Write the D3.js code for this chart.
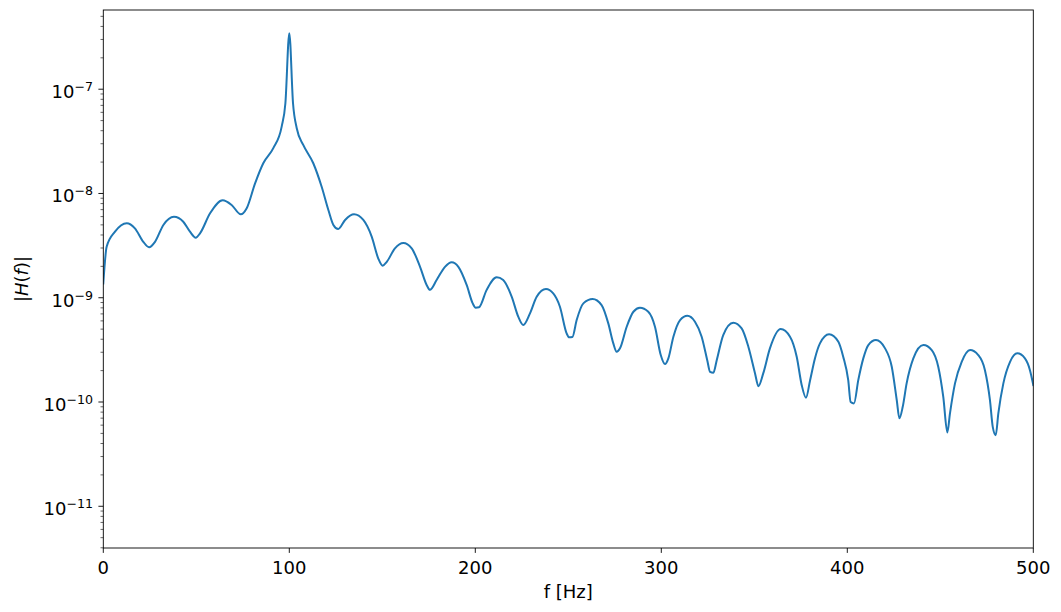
<!DOCTYPE html>
<html><head><meta charset="utf-8">
<script src="https://cdn.jsdelivr.net/npm/d3@7"></script>
<style>body{margin:0;background:#fff} text{font-family:"DejaVu Sans",sans-serif;fill:#000}</style>
</head><body><svg id="c" width="1061" height="612"></svg>
<script>
const freqs = [0,1.8,6.3,12.6,17,21.5,24.6,27.8,32.3,38,43,46.6,49.7,52,57.4,64.2,69,73.9,77.1,81.6,86,91.4,95.9,97.9,100,102,104,107.5,112.9,117.4,121,123.7,126.3,130,134.8,139.8,144.3,147.8,150.2,152.4,156.8,161.3,165.8,170.3,173.9,175.6,179.2,183.7,187.3,190.9,195.4,198.6,200.2,202,206.1,211.5,215,219.6,223.1,225.8,229.4,233,238,241.9,245.5,249.1,250.5,252.2,254.5,258.1,263.1,267.9,271.5,274.2,276,277.8,281.4,285,288.5,293,296.6,299.7,302,303.8,306.5,310.1,314,318.1,321.7,324.7,326.2,328,329.8,333.3,338.7,343.2,346.8,350.4,352.2,354.8,358.4,364.2,369.2,372.8,375.5,377.8,380,382.6,385.3,390.2,395.2,397.8,400.5,401.8,403.6,405.9,408.6,411.3,415.4,420.3,423.9,426.6,428,429.8,431.9,435.5,440.9,445.4,448.9,451.6,453.8,455.2,457.9,461.5,466,470.4,474,476.7,478.2,479.8,481.2,483.9,487.5,491.4,495.5,498.2,500];
const magnitudes = [1.37e-9,3.08e-9,4.3e-9,5.18e-9,4.63e-9,3.44e-9,3.05e-9,3.44e-9,4.99e-9,5.98e-9,5.36e-9,4.3e-9,3.77e-9,4.15e-9,6.46e-9,8.61e-9,7.76e-9,6.31e-9,7.21e-9,1.25e-8,1.95e-8,2.72e-8,4.38e-8,7.34e-8,3.44e-7,7.34e-8,4.22e-8,2.92e-8,1.95e-8,1.16e-8,6.95e-9,4.99e-9,4.56e-9,5.57e-9,6.31e-9,5.57e-9,3.85e-9,2.39e-9,2.03e-9,2.21e-9,2.98e-9,3.35e-9,2.98e-9,1.98e-9,1.32e-9,1.19e-9,1.48e-9,1.98e-9,2.19e-9,1.98e-9,1.32e-9,8.83e-10,8.02e-10,8.1e-10,1.19e-9,1.57e-9,1.48e-9,1.02e-9,6.58e-10,5.47e-10,7.08e-10,1.02e-9,1.21e-9,1.10e-9,8.2e-10,4.55e-10,4.17e-10,4.2e-10,6.11e-10,8.83e-10,9.72e-10,8.51e-10,5.68e-10,3.65e-10,3.03e-10,3.27e-10,5.27e-10,7.34e-10,8.02e-10,7.34e-10,5.27e-10,2.82e-10,2.31e-10,2.62e-10,4.23e-10,6.11e-10,6.72e-10,5.89e-10,4.23e-10,2.52e-10,1.95e-10,1.91e-10,2.52e-10,4.39e-10,5.75e-10,5.08e-10,3.39e-10,1.88e-10,1.42e-10,1.88e-10,3.27e-10,5.01e-10,4.23e-10,2.72e-10,1.45e-10,1.10e-10,1.62e-10,2.62e-10,3.65e-10,4.46e-10,3.78e-10,2.72e-10,1.62e-10,1.0e-10,9.7e-11,1.62e-10,2.62e-10,3.52e-10,3.93e-10,3.27e-10,2.18e-10,1.04e-10,6.97e-11,9.0e-11,1.51e-10,2.62e-10,3.52e-10,3.15e-10,2.18e-10,1.12e-10,5.11e-11,7.78e-11,1.51e-10,2.43e-10,3.15e-10,2.82e-10,2.02e-10,1.04e-10,5.78e-11,4.81e-11,7.78e-11,1.51e-10,2.43e-10,2.93e-10,2.62e-10,2.02e-10,1.45e-10];
const xTicks = [0,100,200,300,400,500];
const yTickExponents = [-11,-10,-9,-8,-7];
const xDomain = [0,500];
const yDomain = [3.98e-12, 5.75e-7];
const xLabel = "f [Hz]";

const svg = d3.select("#c");
const L = 103.3, R = 1033.3, T = 10, B = 548;
const x = d3.scaleLinear().domain(xDomain).range([L, R]);
const y = d3.scaleLog().domain(yDomain).range([B, T]);

svg.append("defs").append("clipPath").attr("id","clip")
  .append("rect").attr("x",L).attr("y",T).attr("width",R-L).attr("height",B-T);

const data = freqs.map((f,i)=>[f, magnitudes[i]]);
svg.append("path").datum(data)
  .attr("clip-path","url(#clip)")
  .attr("fill","none").attr("stroke","#1f77b4").attr("stroke-width",2)
  .attr("stroke-linejoin","round").attr("stroke-linecap","square")
  .attr("d", d3.line().x(d=>x(d[0])).y(d=>y(d[1])).curve(d3.curveMonotoneX));

// frame
svg.append("rect").attr("x",L).attr("y",T).attr("width",R-L).attr("height",B-T)
  .attr("fill","none").attr("stroke","#000").attr("stroke-width",0.9);

// x ticks
const xg = svg.append("g");
xTicks.forEach(t=>{
  xg.append("line").attr("x1",x(t)).attr("x2",x(t)).attr("y1",B).attr("y2",B+4.9)
    .attr("stroke","#000").attr("stroke-width",0.9);
  xg.append("text").attr("x",x(t)).attr("y",574).attr("text-anchor","middle")
    .attr("font-size",18).text(t);
});
svg.append("text").attr("x",(L+R)/2).attr("y",598).attr("text-anchor","middle")
  .attr("font-size",18).text(xLabel);

// y ticks
const yg = svg.append("g");
yTickExponents.forEach(e=>{
  const v = Math.pow(10,e), py = y(v);
  yg.append("line").attr("x1",L-4.9).attr("x2",L).attr("y1",py).attr("y2",py)
    .attr("stroke","#000").attr("stroke-width",0.9);
  const t = yg.append("text").attr("x",93).attr("y",py+9).attr("text-anchor","end").attr("font-size",18);
  t.append("tspan").text("10");
  t.append("tspan").attr("dy",-7).attr("font-size",12.6).text("\u2212"+Math.abs(e));
});
// minor ticks
for(let e=-12;e<=-7;e++){
  for(let m=2;m<=9;m++){
    const v = m*Math.pow(10,e);
    if(v<yDomain[0]||v>yDomain[1]) continue;
    const py = y(v);
    yg.append("line").attr("x1",L-2.8).attr("x2",L).attr("y1",py).attr("y2",py)
      .attr("stroke","#000").attr("stroke-width",0.6);
  }
}
// y label
const yl = svg.append("text").attr("transform","translate(28,279) rotate(-90)")
  .attr("text-anchor","middle").attr("font-size",18);
yl.append("tspan").text("|");
yl.append("tspan").attr("font-style","italic").text("H");
yl.append("tspan").text("(");
yl.append("tspan").attr("font-style","italic").text("f");
yl.append("tspan").text(")|");
</script>
</body></html>
